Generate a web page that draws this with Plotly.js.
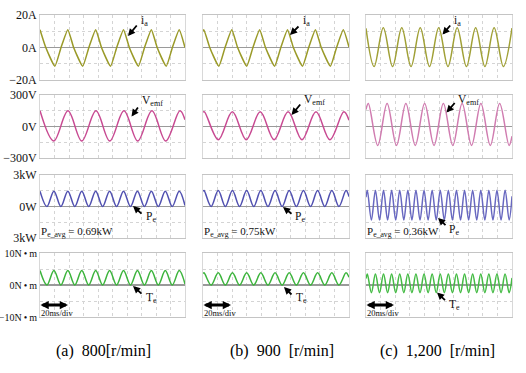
<!DOCTYPE html>
<html><head><meta charset="utf-8">
<script src="https://cdn.plot.ly/plotly-3.0.1.min.js"></script>
<style>html,body{margin:0;padding:0;background:#fff}#c{width:526px;height:373px}</style>
</head><body><div id="c"></div>
<script>
// ---------------- DATA (time in ms, 0..200 per screen) ----------------
// column (a) 800 r/min
const ia_a_t = [0,8,20.5,29,38.4,46.4,58.9,67.4,76.8,84.8,97.3,105.8,115.2,123.2,135.7,144.2,153.6,161.6,174.1,182.6,192,200];
const ia_a   = [11,0,-11.5,0,11,0,-11.5,0,11,0,-11.5,0,11,0,-11.5,0,11,0,-11.5,0,11,0];
const vemf_a_t = [0,19,38.6,57.6,77.2,96.2,115.8,134.8,154.4,173.4,193,200];
const vemf_a   = [150,-138,150,-138,150,-138,150,-138,150,-138,150,65];
const pe_a_t = [0,9.6,19.2,28.8,38.4,48,57.6,67.2,76.8,86.4,96,105.6,115.2,124.8,134.4,144,153.6,163.2,172.8,182.4,192,200];
const pe_a   = [1.46,0,1.46,0,1.46,0,1.46,0,1.46,0,1.46,0,1.46,0,1.46,0,1.46,0,1.46,0,1.46,0.1];
const te_a_t = pe_a_t;
const te_a   = [4.5,0,4.5,0,4.5,0,4.5,0,4.5,0,4.5,0,4.5,0,4.5,0,4.5,0,4.5,0,4.5,0.3];
// column (b) 900 r/min
const ia_b_t = [0,1.2,9.2,21.7,30.2,39.4,47.4,59.9,68.4,77.6,85.6,98.1,106.6,115.8,123.8,136.3,144.8,154,162,174.5,183,192.2,200];
const ia_b   = [10,11,0,-11.5,0,11,0,-11.5,0,11,0,-11.5,0,11,0,-11.5,0,11,0,-11.5,0,11,0.3];
const vemf_b_t = [0,2,21,40.2,59.2,78.4,97.4,116.6,135.6,154.8,173.8,193,200];
const vemf_b   = [138,140,-125,140,-125,140,-125,140,-125,140,-125,140,60];
const pe_b_t = [0,1.4,11.1,20.9,30.6,40.3,50.1,59.8,69.5,79.2,89,98.7,108.4,118.1,127.9,137.6,147.3,157,166.8,176.5,186.2,195.9,200];
const pe_b   = [1.45,1.52,0,1.52,0,1.52,0,1.52,0,1.52,0,1.52,0,1.52,0,1.52,0,1.52,0,1.52,0,1.52,0.94];
const te_b_t = pe_b_t;
const te_b   = [3.6,3.8,0,3.8,0,3.8,0,3.8,0,3.8,0,3.8,0,3.8,0,3.8,0,3.8,0,3.8,0,3.8,2.4];
// column (c) 1,200 r/min
const ia_c_t = [0,11.1,23.7,36.4,49,61.7,74.3,87,99.6,112.3,124.9,137.6,150.2,162.9,175.5,188.2,200];
const ia_c   = [11.8,-11.7,12.2,-11.7,12.2,-11.7,12.2,-11.7,12.2,-11.7,12.2,-11.7,12.2,-11.7,12.2,-11.7,12];
const vemf_c_t = [0,3.2,16.1,28.9,41.8,54.6,67.5,80.3,93.2,106,118.9,131.7,144.6,157.4,170.3,183.1,196,200];
const vemf_c   = [162,220,-180,220,-180,220,-180,220,-180,220,-180,220,-180,220,-180,220,-180,-92];
const pe_c_t = [0,1.8,7.4,12.9,18.5,24,29.6,35.1,40.7,46.2,51.8,57.3,62.9,68.4,74,79.5,85.1,90.6,96.2,101.7,107.3,112.8,118.4,123.9,129.5,135,140.6,146.1,151.7,157.2,162.8,168.3,173.9,179.4,185,190.5,196.1,200];
const pe_c   = [0.88,1.55,-1.29,1.55,-1.29,1.55,-1.29,1.55,-1.29,1.55,-1.29,1.55,-1.29,1.55,-1.29,1.55,-1.29,1.55,-1.29,1.55,-1.29,1.55,-1.29,1.55,-1.29,1.55,-1.29,1.55,-1.29,1.55,-1.29,1.55,-1.29,1.55,-1.29,1.55,-1.29,0.97];
const te_c_t = pe_c_t;
const te_c   = [2.0,3.4,-2.4,3.4,-2.4,3.4,-2.4,3.4,-2.4,3.4,-2.4,3.4,-2.4,3.4,-2.4,3.4,-2.4,3.4,-2.4,3.4,-2.4,3.4,-2.4,3.4,-2.4,3.4,-2.4,3.4,-2.4,3.4,-2.4,3.4,-2.4,3.4,-2.4,3.4,-2.4,2.2];

const rowRange = [20, 300, 3, 10];
const tickLabels = [
  ["20A","0A","\u221220A"],
  ["300V","0V","\u2212300V"],
  ["3kW","0W","3kW"],
  ["10N\u2009\u2022\u2009m","0N\u2009\u2022\u2009m","\u221210N\u2009\u2022\u2009m"]
];
const avgLabels = ["0.69kW","0.75kW","0.36kW"];
const captions = ["(a)\u00a0\u00a0800[r/min]","(b)\u00a0\u00a0900\u00a0\u00a0[r/min]","(c)\u00a0\u00a01,200\u00a0\u00a0[r/min]"];

// ---------------- LAYOUT ----------------
const W=526,H=373;
const px=x=>x/W, py=y=>1-y/H;
const colX=[[40,185],[203,349],[366,512]];
const rowY=[[15,80],[95,158],[175,238],[253,317]];
const serif="Liberation Serif";
const tickSize=[12,12,12,10];

const series=[
 [ia_a_t,ia_a,0,0,'#9a9a28',0.45],[vemf_a_t,vemf_a,1,0,'#c84a92',1],[pe_a_t,pe_a,2,0,'#5050b0',1],[te_a_t,te_a,3,0,'#3cb43c',1],
 [ia_b_t,ia_b,0,1,'#9a9a28',0.45],[vemf_b_t,vemf_b,1,1,'#c84a92',1],[pe_b_t,pe_b,2,1,'#5050b0',1],[te_b_t,te_b,3,1,'#3cb43c',1],
 [ia_c_t,ia_c,0,2,'#a0a036',1],[vemf_c_t,vemf_c,1,2,'#d07cb0',1],[pe_c_t,pe_c,2,2,'#6868c0',1],[te_c_t,te_c,3,2,'#44bb44',1]
];

const layout={width:W,height:H,margin:{l:0,r:0,t:0,b:0},paper_bgcolor:'#fff',plot_bgcolor:'#fff',showlegend:false,annotations:[],
  font:{family:serif}};
const data=[];
for(let r=0;r<4;r++){for(let c=0;c<3;c++){
  const n=r*3+c+1, sx=n===1?'':n, R=rowRange[r];
  layout['xaxis'+sx]={domain:[px(colX[c][0]),px(colX[c][1])],range:[0,200],anchor:'y'+sx,showticklabels:false,ticks:'',
    showgrid:true,griddash:'dot',gridcolor:'#d4d4d4',gridwidth:1,dtick:20,tick0:0,zeroline:false,
    showline:true,mirror:true,linecolor:'#c4c4c4',linewidth:1,fixedrange:true};
  layout['yaxis'+sx]={domain:[py(rowY[r][1]),py(rowY[r][0])],range:[-R,R],anchor:'x'+sx,
    tickmode:'array',tickvals:[R,0,-R],ticktext:tickLabels[r],showticklabels:c===0,ticks:'',
    tickfont:{family:serif,size:tickSize[r],color:'#111'},showgrid:false,
    minor:{tickmode:'array',tickvals:[-R/2,R/2],showgrid:true,griddash:'dot',gridcolor:'#d4d4d4',gridwidth:1,ticks:''},
    zeroline:true,zerolinecolor:'#9a9a9a',zerolinewidth:1.5,showline:true,mirror:true,linecolor:'#d8d8d8',linewidth:1,fixedrange:true};
}}
series.forEach(s=>{
  const n=s[2]*3+s[3]+1, sx=n===1?'':n;
  data.push({type:'scatter',mode:'lines',x:s[0],y:s[1],xaxis:'x'+sx,yaxis:'y'+sx,
    line:{color:s[4],width:1.5,shape:'spline',smoothing:s[5]},hoverinfo:'skip'});
});

const A=layout.annotations;
function arrow(tx,ty,ex,ey,w,both,sz){A.push({xref:'paper',yref:'paper',x:px(ex),y:py(ey),ax:tx-ex,ay:ty-ey,text:'',showarrow:true,
  arrowhead:2,arrowsize:sz||0.8,arrowwidth:w||1.8,arrowcolor:'#000',arrowside:both?'end+start':'end',startarrowhead:2,startarrowsize:sz||0.8});}
function label(x,y,t,size){A.push({xref:'paper',yref:'paper',x:px(x),y:py(y),text:t,showarrow:false,xanchor:'left',yanchor:'middle',
  font:{family:serif,size:size||11.5,color:'#111'}});}

// column a
arrow(138,24,128,36); label(138.5,21,'i<sub>a</sub>');
arrow(139,106,131.5,116.5); label(139.5,101,'V<sub>emf</sub>');
arrow(143,215,133,206); label(143.5,217,'P<sub>e</sub>');
arrow(143,295,133,286); label(143.5,298,'T<sub>e</sub>');
// column b
arrow(300,25,290,35); label(300.5,21,'i<sub>a</sub>');
arrow(301.5,103,291.5,115); label(301.5,100,'V<sub>emf</sub>');
arrow(293,215,283,207); label(293,217,'P<sub>e</sub>');
arrow(293,296,284,287); label(293.5,298,'T<sub>e</sub>');
// column c
arrow(451.5,24,442.5,34.5); label(452,21,'i<sub>a</sub>');
arrow(456,101.5,446.5,112.5); label(456,100,'V<sub>emf</sub>');
arrow(447,226.5,438,218); label(447,230,'P<sub>e</sub>');
arrow(446.5,301.5,437,292.5); label(447,305,'T<sub>e</sub>');
// averages, time scale, captions
for(let c=0;c<3;c++){
  label(colX[c][0]-1,232,'P<sub>e_avg</sub> = '+avgLabels[c],11);
  arrow(colX[c][0]-1,305,colX[c][0]+28,305,3,true,0.55);
  label(colX[c][0]-1,312.5,'20ms/div',8.5);
}
[103,282,437].forEach((x,i)=>A.push({xref:'paper',yref:'paper',x:px(x),y:py(351),text:captions[i],showarrow:false,
  xanchor:'center',yanchor:'middle',font:{family:serif,size:16,color:'#000'}}));

Plotly.newPlot('c',data,layout,{staticPlot:true,displayModeBar:false});
</script></body></html>
